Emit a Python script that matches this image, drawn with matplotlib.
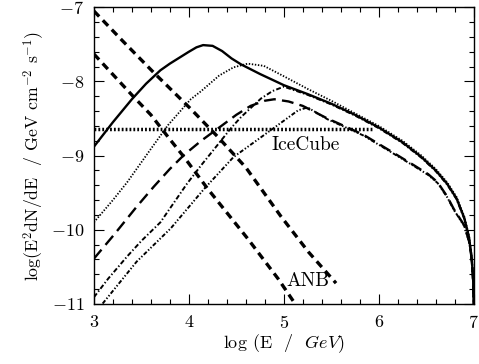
import matplotlib
matplotlib.use("Agg")
import matplotlib.pyplot as plt
from matplotlib.ticker import MultipleLocator

plt.rcParams['font.family'] = ['cmr10', 'DejaVu Serif']
plt.rcParams['mathtext.fontset'] = 'cm'
plt.rcParams['axes.formatter.use_mathtext'] = True
plt.rcParams['lines.scale_dashes'] = False

# toplam akı (düz çizgi)
solid_x = [3.0, 3.2, 3.4, 3.55, 3.7, 3.8, 3.9, 4.0, 4.08, 4.15, 4.25, 4.35, 4.45, 4.55, 4.75,
           5.0, 5.25, 5.5, 5.75, 6.0, 6.25, 6.45, 6.6, 6.72, 6.82, 6.9, 6.95, 6.98, 6.995, 7.0]
solid_y = [-8.88, -8.55, -8.24, -8.03, -7.85, -7.76, -7.68, -7.6, -7.54, -7.51, -7.52, -7.59, -7.69, -7.77, -7.9,
           -8.05, -8.17, -8.3, -8.45, -8.62, -8.82, -9.02, -9.2, -9.38, -9.58, -9.84, -10.1, -10.4, -10.7, -11.0]

# ince noktalı eğri
dot_x = [3.0, 3.2, 3.35, 3.6, 3.78, 4.02, 4.13, 4.32, 4.47, 4.62, 4.79, 5.0, 5.25, 5.5, 5.75,
         6.0, 6.25, 6.45, 6.6, 6.72, 6.82, 6.9, 6.95, 6.98, 6.995, 7.0]
dot_y = [-9.9, -9.6, -9.36, -8.91, -8.59, -8.24, -8.13, -7.92, -7.81, -7.76, -7.79, -7.93, -8.1, -8.26, -8.43,
         -8.6, -8.8, -9.0, -9.18, -9.36, -9.56, -9.82, -10.08, -10.38, -10.68, -11.0]

# uzun kesikli eğri
ldash_x = [3.0, 3.21, 3.45, 3.63, 3.8, 3.95, 4.13, 4.3, 4.5, 4.65, 4.8, 4.9, 5.05, 5.2, 5.46, 5.67,
           5.84, 6.1, 6.37, 6.52, 6.62, 6.72, 6.79, 6.9, 6.95, 6.97, 6.99, 7.0]
ldash_y = [-10.39, -10.07, -9.69, -9.42, -9.18, -8.99, -8.8, -8.64, -8.45, -8.33, -8.26, -8.24, -8.27, -8.33,
           -8.5, -8.62, -8.72, -8.92, -9.13, -9.25, -9.36, -9.55, -9.72, -9.94, -10.15, -10.3, -10.6, -11.0]

# üst nokta-çizgi eğri
dd1_x = [3.0, 3.15, 3.35, 3.5, 3.7, 3.84, 3.98, 4.13, 4.3, 4.45, 4.55, 4.65, 4.76, 4.88, 5.0,
         5.25, 5.5, 5.75, 6.0, 6.25, 6.45, 6.6, 6.72, 6.82, 6.9, 6.95, 6.98, 6.995, 7.0]
dd1_y = [-10.91, -10.66, -10.36, -10.15, -9.9, -9.64, -9.38, -9.13, -8.86, -8.62, -8.48, -8.36, -8.23, -8.13, -8.07,
         -8.18, -8.31, -8.46, -8.63, -8.83, -9.03, -9.21, -9.39, -9.59, -9.85, -10.11, -10.41, -10.71, -11.0]

# alt nokta-nokta-çizgi eğri
dd2_x = [3.0, 3.07, 3.45, 3.81, 4.16, 4.47, 4.73, 5.0, 5.15, 5.25, 5.46, 5.67, 5.84, 6.1, 6.37,
         6.52, 6.62, 6.72, 6.79, 6.9, 6.95, 6.97, 6.99, 7.0]
dd2_y = [-11.12, -11.03, -10.43, -9.98, -9.45, -9.02, -8.78, -8.53, -8.39, -8.35, -8.51, -8.63, -8.73, -8.93, -9.14,
         -9.26, -9.37, -9.56, -9.73, -9.95, -10.16, -10.31, -10.61, -11.0]

# ANB çizgileri
anb1_x = [3.0, 3.3, 3.63, 4.02, 4.3, 4.6, 4.97, 5.26, 5.55]
anb1_y = [-7.05, -7.45, -7.88, -8.37, -8.74, -9.16, -9.82, -10.3, -10.72]
anb2_x = [3.0, 3.42, 3.6, 3.8, 3.95, 4.2, 4.62, 4.94, 5.12]
anb2_y = [-7.63, -8.21, -8.45, -8.78, -9.02, -9.45, -10.12, -10.66, -11.0]

# IceCube duyarlılığı
ice_x = [3.0, 5.95]
ice_y = [-8.64, -8.64]

fig = plt.figure(figsize=(4.79, 3.64), dpi=100)
ax = fig.add_axes([0.196, 0.165, 0.793, 0.815])

ax.plot(solid_x, solid_y, color="black", lw=1.7, solid_joinstyle="round")
ax.plot(dot_x, dot_y, color="black", lw=1.3, dashes=(1.0, 1.2))
ax.plot(ldash_x, ldash_y, color="black", lw=1.7, dashes=(8.5, 4.5))
ax.plot(dd1_x, dd1_y, color="black", lw=1.4, dashes=(3.5, 1.6, 1.0, 1.6))
ax.plot(dd2_x, dd2_y, color="black", lw=1.4, dashes=(3.0, 1.4, 1.0, 1.4, 1.0, 1.4))
ax.plot(anb1_x, anb1_y, color="black", lw=2.4, dashes=(5.5, 3.8))
ax.plot(anb2_x, anb2_y, color="black", lw=2.4, dashes=(5.5, 3.8))
ax.plot(ice_x, ice_y, color="black", lw=2.5, dashes=(1.3, 1.5))

ax.text(4.87, -8.86, "IceCube", fontsize=14, va="center", ha="left")
ax.text(5.03, -10.69, "ANB", fontsize=14, va="center", ha="left")

ax.set_xlim(3, 7)
ax.set_ylim(-11, -7)
ax.xaxis.set_major_locator(MultipleLocator(1))
ax.xaxis.set_minor_locator(MultipleLocator(0.2))
ax.yaxis.set_major_locator(MultipleLocator(1))
ax.yaxis.set_minor_locator(MultipleLocator(0.2))
ax.tick_params(which="both", direction="in", top=True, right=True, labelsize=13, width=0.8)
ax.tick_params(which="major", length=7, pad=7)
ax.tick_params(which="minor", length=3.5)
for s in ax.spines.values():
    s.set_linewidth(1.0)

ax.set_xlabel(r"log (E  /  $\it{GeV}$)", fontsize=13, labelpad=1)
ax.set_ylabel(r"log(E$^2$dN/dE  / GeV cm$^{-2}$ s$^{-1}$)", fontsize=12.8, labelpad=3)

fig.savefig("out.png", dpi=100)
